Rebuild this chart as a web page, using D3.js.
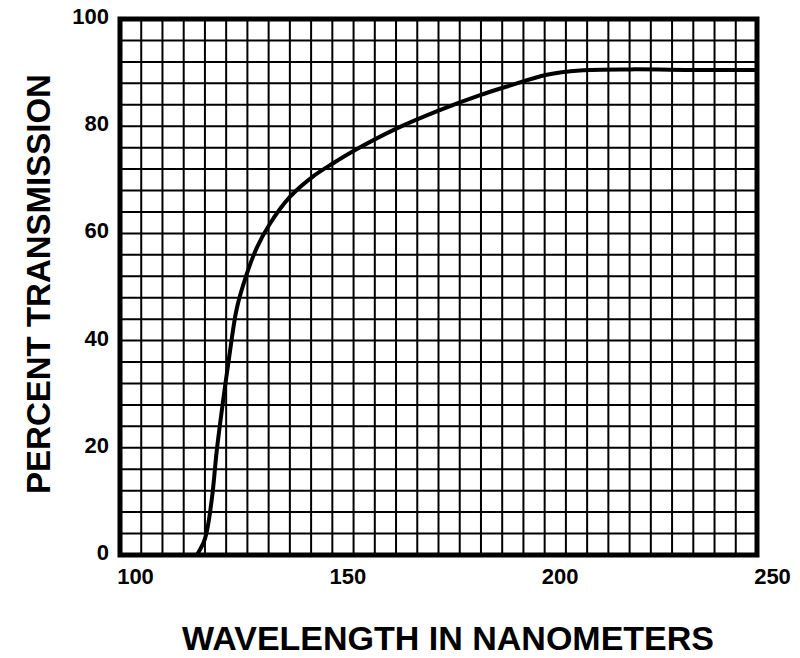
<!DOCTYPE html>
<html>
<head>
<meta charset="utf-8">
<script src="https://cdn.jsdelivr.net/npm/d3@7"></script>
<style>
    body { margin: 0; background: white; }
    text { font-family: "Liberation Sans", Arial, sans-serif; font-weight: bold; fill: black; }
</style>
</head>
<body>
<svg id="chart"></svg>
<script>
// wavelength (nm) vs percent transmission
var wavelength = [118.1, 120.0, 121.6, 122.8, 124.3, 125.9, 127.5, 129.8, 132.2, 135.3, 140.0, 145.4,
    150.2, 155.7, 165.2, 175.3, 184.8, 191.1, 200.5, 208.3, 220.1, 235.8, 250.0];
var transmission = [0, 3.0, 10.3, 19.6, 28.9, 38.0, 46.0, 52.3, 57.3, 61.8, 66.8, 70.6,
    73.1, 75.7, 79.6, 83.0, 85.8, 87.4, 89.6, 90.4, 90.6, 90.5, 90.5];

var xTicks = [100, 150, 200, 250];
var yTicks = [0, 20, 40, 60, 80, 100];

var dimensions = {
    width: 800,
    height: 658,
    margin: {
        top: 19,
        bottom: 103,
        right: 43,
        left: 120
    }
}

var svg = d3.select("#chart")
    .attr("width", dimensions.width)
    .attr("height", dimensions.height);

var xScale = d3.scaleLinear()
    .domain([100, 250])
    .range([dimensions.margin.left, dimensions.width - dimensions.margin.right]);

var yScale = d3.scaleLinear()
    .domain([0, 100])
    .range([dimensions.height - dimensions.margin.bottom, dimensions.margin.top]);

// graph paper grid: 5 nm by 4 %
svg.append("g")
    .selectAll("line")
    .data(d3.range(105, 250, 5))
    .enter()
    .append("line")
    .attr("x1", d => xScale(d))
    .attr("x2", d => xScale(d))
    .attr("y1", yScale(0))
    .attr("y2", yScale(100))
    .attr("stroke", "black")
    .attr("stroke-width", 2);

svg.append("g")
    .selectAll("line")
    .data(d3.range(4, 100, 4))
    .enter()
    .append("line")
    .attr("x1", xScale(100))
    .attr("x2", xScale(250))
    .attr("y1", d => yScale(d))
    .attr("y2", d => yScale(d))
    .attr("stroke", "black")
    .attr("stroke-width", 2);

// frame
svg.append("rect")
    .attr("x", xScale(100))
    .attr("y", yScale(100))
    .attr("width", xScale(250) - xScale(100))
    .attr("height", yScale(0) - yScale(100))
    .attr("fill", "none")
    .attr("stroke", "black")
    .attr("stroke-width", 5);

// curve
var points = wavelength.map((w, i) => ({ w: w, t: transmission[i] }));

var line = d3.line()
    .x(d => xScale(d.w))
    .y(d => yScale(d.t))
    .curve(d3.curveCatmullRom.alpha(0.5));

svg.append("path")
    .datum(points)
    .attr("d", line)
    .attr("fill", "none")
    .attr("stroke", "black")
    .attr("stroke-width", 4)
    .attr("stroke-linecap", "round");

// x axis labels
var xAxis = svg.append("g")
    .attr("transform", `translate(0,${yScale(0)})`)
    .call(d3.axisBottom(xScale).tickValues(xTicks).tickSize(0).tickFormat(d3.format("d")));
xAxis.select(".domain").remove();
xAxis.selectAll("text")
    .attr("x", 15)
    .attr("y", 13)
    .attr("dy", "0.71em")
    .style("font-size", "22px");

// y axis labels
var yAxis = svg.append("g")
    .attr("transform", `translate(${xScale(100)},0)`)
    .call(d3.axisLeft(yScale).tickValues(yTicks).tickSize(0).tickFormat(d3.format("d")));
yAxis.select(".domain").remove();
yAxis.selectAll("text")
    .attr("x", -11)
    .attr("dy", "0.2em")
    .style("font-size", "22px");

svg.append("text")
    .attr("text-anchor", "middle")
    .attr("x", 448)
    .attr("y", 650)
    .style("font-size", "34px")
    .text("WAVELENGTH IN NANOMETERS");

svg.append("text")
    .attr("text-anchor", "middle")
    .attr("transform", "translate(50,284) rotate(-90)")
    .style("font-size", "33px")
    .text("PERCENT TRANSMISSION");
</script>
</body>
</html>
